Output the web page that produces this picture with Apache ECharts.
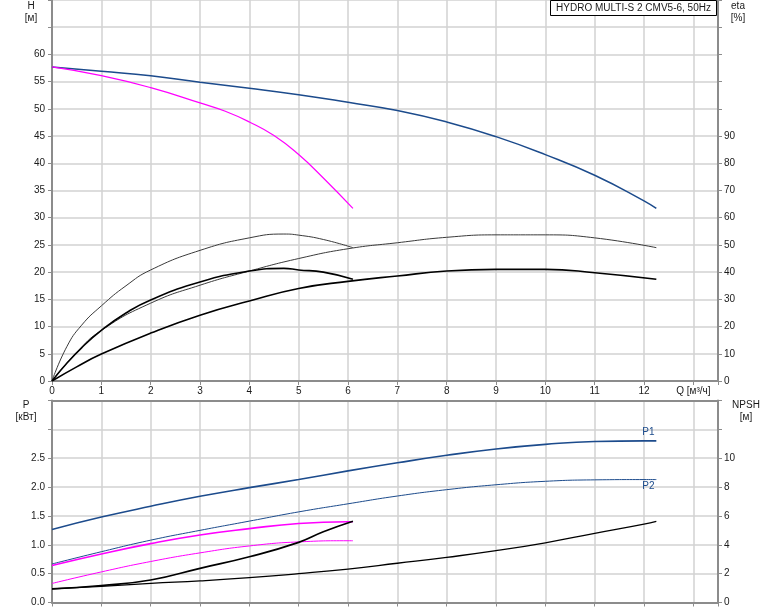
<!DOCTYPE html>
<html><head><meta charset="utf-8">
<script src="https://cdn.jsdelivr.net/npm/echarts@6/dist/echarts.min.js"></script>
<style>html,body{margin:0;padding:0;background:#fff}#c{width:774px;height:611px}</style>
</head><body><div id="c"></div>
<script>
// ---- data ----
const chartTitle = 'HYDRO MULTI-S 2 CMV5-6, 50Hz';
const qTickLabel = 'Q [м³/ч]';
// Head, two pumps (blue)
const qMain = [0,1,2,3,4,5,6,7,8,9,10,11,12,12.25];
const hMain = [57.7,56.9,56.1,54.9,53.8,52.6,51.2,49.7,47.6,44.9,41.6,37.8,33.1,31.7];
// Head, one pump (magenta)
const qSingleH = [0,1,2,3,3.5,4,4.5,5,5.5,6.1];
const hSingle = [57.7,56.1,53.9,51.1,49.6,47.6,45.1,41.6,37.3,31.7];
// Efficiency curves (%)
const qEtaMain = [0,0.5,1,2,3,4,5,6,7,8,9,10,11,12.25];
const etaHydMain = [0,10.5,18.6,28.6,35.2,40.4,45,48.6,50.8,52.8,53.7,53.7,52.6,49];
const etaTotMain = [0,5.2,9.9,17.6,24.2,29.4,34,36.6,38.6,40.4,41,41,39.8,37.4];
const qEtaSingle = [0,0.3,0.6,1,1.5,2,3,4,4.7,5,5.5,6.1];
const etaHydSingle = [0,12.6,20.5,27.6,35,40.8,48,52.6,54,53.6,52,49];
const etaTotSingle = [0,6.5,12.2,18.6,25,29.8,36.4,40.4,41.4,40.8,40,37.4];
// Power (kW) and NPSH (m)
const qPow = [0,1,2,3,4,5,6,7,8,9,10,11,12,12.25];
const p1Main = [1.265,1.48,1.667,1.84,1.99,2.13,2.28,2.42,2.55,2.66,2.74,2.79,2.80,2.80];
const p2Main = [0.667,0.88,1.08,1.25,1.41,1.57,1.71,1.845,1.955,2.04,2.10,2.125,2.13,2.13];
const npshMain = [0.94,1.12,1.33,1.5,1.72,2.0,2.32,2.72,3.13,3.59,4.14,4.79,5.43,5.63];
const qPowSingle = [0,1,2,3,4,5,6,6.1];
const p1Single = [0.64,0.84,1.02,1.17,1.28,1.37,1.40,1.40];
const p2Single = [0.33,0.53,0.71,0.86,0.98,1.05,1.07,1.07];
const qNpshSingle = [0,1,2,3,4,5,5.5,6.1];
const npshSingle = [0.94,1.18,1.56,2.37,3.17,4.17,4.9,5.63];

// ---- styling ----
const BLUE = '#1c4b8c', MAG = '#ff00ff', AXIS = '#8c8c8c', GRIDC = '#d2d2d2', TXT = '#1a1a1a';
const FONT = 'Liberation Sans, Arial, sans-serif';
const zip = (xs, ys) => xs.map((x, i) => [x, ys[i]]);

function line(xi, yi, xs, ys, color, width, extra) {
  return Object.assign({
    type: 'line', xAxisIndex: xi, yAxisIndex: yi, data: zip(xs, ys),
    smooth: 0.5, showSymbol: false, symbol: 'none',
    lineStyle: { color: color, width: width }, silent: true, animation: false, z: 5
  }, extra || {});
}
function xAx(grid, showLabels) {
  return {
    type: 'value', gridIndex: grid, min: 0, max: 13.5, interval: 1,
    axisLine: { show: true, onZero: false, lineStyle: { color: AXIS, width: 2 } },
    axisTick: { show: true, length: 4, lineStyle: { color: AXIS, width: 1 } },
    axisLabel: { show: showLabels, margin: 5, fontSize: 10, fontFamily: FONT, color: TXT,
      formatter: v => v === 13 ? qTickLabel : (Number.isInteger(v) ? String(v) : '') },
    splitLine: { show: true, lineStyle: { color: GRIDC, width: 1.5 } }
  };
}
function yAx(grid, pos, max, interval, maxLabel, fmt, split) {
  return {
    type: 'value', gridIndex: grid, position: pos, min: 0, max: max, interval: interval,
    axisLine: { show: true, onZero: false, lineStyle: { color: AXIS, width: 2 } },
    axisTick: { show: true, length: 4, lineStyle: { color: AXIS, width: 1 } },
    axisLabel: { margin: pos === 'left' ? 7 : 6, fontSize: 10, fontFamily: FONT, color: TXT,
      formatter: v => v <= maxLabel + 1e-9 ? fmt(v) : '' },
    splitLine: { show: split, lineStyle: { color: GRIDC, width: 1.5 } }
  };
}

const chart = echarts.init(document.getElementById('c'), null, { renderer: 'canvas' });
const txt = (x, y, s) => ({ type: 'text', x: x, y: y, z: 50,
  style: { text: s, fontSize: 10, fontFamily: FONT, fill: TXT, align: 'center', verticalAlign: 'middle' } });

chart.setOption({
  animation: false,
  backgroundColor: '#fff',
  grid: [
    { left: 52, right: 56, top: 0, height: 381, containLabel: false, outerBoundsMode: 'none' },
    { left: 52, right: 56, top: 400.5, height: 202, containLabel: false, outerBoundsMode: 'none' }
  ],
  xAxis: [
    xAx(0, true),
    xAx(1, false),
    { type: 'value', gridIndex: 1, position: 'top', min: 0, max: 13.5,
      axisLine: { show: true, onZero: false, lineStyle: { color: AXIS, width: 2 } },
      axisTick: { show: false }, axisLabel: { show: false }, splitLine: { show: false } }
  ],
  yAxis: [
    yAx(0, 'left', 70, 5, 60, v => String(v), true),
    yAx(0, 'right', 140, 10, 90, v => String(v), false),
    yAx(1, 'left', 3.5, 0.5, 2.5, v => v.toFixed(1), true),
    yAx(1, 'right', 14, 2, 10, v => String(v), false)
  ],
  graphic: [
    { type: 'rect', z: 50, shape: { x: 550.5, y: 0.5, width: 166, height: 15 },
      style: { fill: '#fff', stroke: '#000', lineWidth: 1 } },
    txt(633.5, 8.5, chartTitle),
    txt(31, 6, 'H'), txt(31, 18, '[м]'),
    txt(738, 6, 'eta'), txt(738, 18, '[%]'),
    txt(26, 405, 'P'), txt(26, 417, '[кВт]'),
    txt(746, 405, 'NPSH'), txt(746, 417, '[м]')
  ],
  series: [
    line(0, 0, qMain, hMain, BLUE, 1.5),
    line(0, 0, qSingleH, hSingle, MAG, 1.2),
    line(0, 1, qEtaMain, etaHydMain, '#3a3a3a', 1),
    line(0, 1, qEtaMain, etaTotMain, '#000', 1.6),
    line(0, 1, qEtaSingle, etaHydSingle, '#3a3a3a', 1),
    line(0, 1, qEtaSingle, etaTotSingle, '#000', 1.6),
    line(1, 2, qPow, p1Main, BLUE, 1.6, {
      endLabel: { show: true, formatter: 'P1', color: BLUE, fontSize: 10, fontFamily: FONT,
        distance: 0, offset: [-14, -9] } }),
    line(1, 2, qPow, p2Main, BLUE, 1, {
      endLabel: { show: true, formatter: 'P2', color: BLUE, fontSize: 10, fontFamily: FONT,
        distance: 0, offset: [-14, 7] } }),
    line(1, 2, qPowSingle, p1Single, MAG, 1.6),
    line(1, 2, qPowSingle, p2Single, MAG, 1),
    line(1, 3, qPow, npshMain, '#000', 1.3),
    line(1, 3, qNpshSingle, npshSingle, '#000', 1.7)
  ]
});
</script>
</body></html>
